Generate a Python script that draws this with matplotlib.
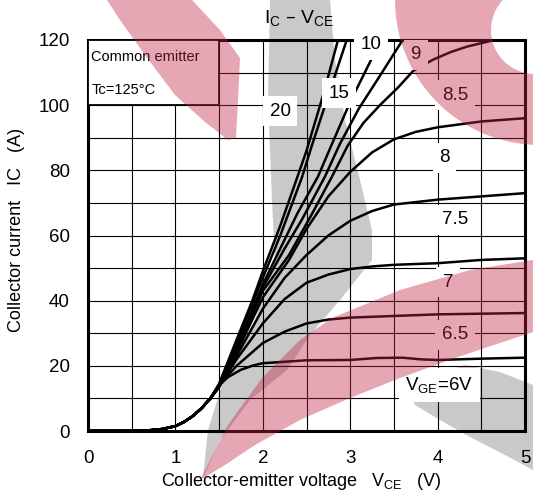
import matplotlib.pyplot as plt
import numpy as np
from matplotlib.patches import Polygon, Rectangle, PathPatch
from matplotlib.path import Path

plt.rcParams['font.family'] = ['Liberation Sans', 'DejaVu Sans']

# shared turn-on part of all curves (V, A)
v_knee = [0, 0.5, 0.7, 0.85, 1.0, 1.1, 1.2, 1.3, 1.4]
i_knee = [0, 0, 0.2, 0.6, 1.5, 2.8, 4.6, 7.0, 10.0]

# VGE = 20 V ... 6 V
v_20 = [1.5, 1.7, 1.88, 2.0, 2.2, 2.37, 2.5, 2.7, 2.86]
i_20 = [14.5, 28, 40, 49, 63, 76, 86, 104, 120]
v_15 = [1.5, 1.7, 2.0, 2.2, 2.45, 2.56, 2.75, 2.96]
i_15 = [14.2, 27, 47, 60, 78, 87.5, 103, 120]
v_10 = [1.5, 1.7, 2.0, 2.2, 2.4, 2.63, 2.79, 3.0, 3.25, 3.36]
i_10 = [13.8, 25.5, 45, 56, 67, 78, 88, 101, 114.5, 120]
v_9 = [1.5, 1.7, 2.0, 2.25, 2.45, 2.71, 2.88, 3.1, 3.34, 3.6]
i_9 = [13.6, 25, 44, 56, 65, 78, 88, 99, 109, 120]
v_85 = [1.5, 1.7, 2.0, 2.3, 2.55, 2.79, 2.97, 3.15, 3.34, 3.55, 3.72, 3.95, 4.15, 4.34, 4.65]
i_85 = [13.5, 24.5, 43, 54, 66, 78, 87.5, 94.5, 100, 105.5, 110.5, 114, 116.3, 118, 120]
v_8 = [1.5, 1.7, 2.0, 2.3, 2.5, 2.75, 3.0, 3.25, 3.5, 3.75, 4.0, 4.5, 5.0]
i_8 = [13.5, 24, 41, 52.5, 62, 72, 79.5, 85.5, 89.5, 91.8, 93.2, 95, 96]
v_75 = [1.5, 1.7, 2.0, 2.25, 2.5, 2.75, 3.0, 3.25, 3.5, 4.0, 4.5, 5.0]
i_75 = [13.6, 23, 37.5, 47, 54, 60, 64.5, 67.5, 69.5, 71, 72, 73]
v_7 = [1.5, 1.7, 2.0, 2.25, 2.5, 2.75, 3.0, 3.25, 3.5, 4.0, 4.5, 5.0]
i_7 = [13.8, 22, 33, 40.5, 45.5, 48, 49.7, 50.5, 51, 51.5, 52.5, 53]
v_65 = [1.5, 1.7, 2.0, 2.25, 2.5, 2.75, 3.0, 3.5, 4.0, 4.5, 5.0]
i_65 = [14, 20, 27, 30.5, 33, 34.2, 34.8, 35.3, 35.8, 36, 36.2]
v_6 = [1.5, 1.6, 1.75, 1.9, 2.0, 2.5, 3.0, 3.3, 3.6, 3.8, 4.0, 4.5, 5.0]
i_6 = [14, 16.5, 18.8, 20.2, 20.8, 21.7, 21.8, 22.4, 22.5, 22.0, 21.8, 22.2, 22.5]

curve_labels = ['20', '15', '10', '9', '8.5', '8', '7.5', '7', '6.5',
                r'$\mathregular{V_{GE}}$=6V']
label_v = [2.2, 2.87, 3.24, 3.75, 4.2, 4.08, 4.2, 4.12, 4.2, 4.02]
label_i = [98.2, 103.6, 118.6, 115.5, 103, 83.8, 64.8, 45.7, 29.5, 14.1]

W, H = 533, 499


def to_fig(pts):
    # picture pixels (y down) -> figure fraction
    return [(x / W, 1 - y / H) for x, y in pts]


fig = plt.figure(figsize=(W / 100, H / 100), dpi=100)
ax = fig.add_axes([88 / W, (H - 431) / H, 437 / W, 391 / H])
ax.set_facecolor('none')

curves = [(v_20, i_20), (v_15, i_15), (v_10, i_10), (v_9, i_9), (v_85, i_85),
          (v_8, i_8), (v_75, i_75), (v_7, i_7), (v_65, i_65), (v_6, i_6)]
for v, i in curves:
    ax.plot(v_knee + v, i_knee + i, color='black', lw=1.8, zorder=2)

ax.set_xlim(0, 5)
ax.set_ylim(0, 120)
ax.set_xticks(np.arange(0, 6, 1))
ax.set_xticks(np.arange(0, 5.01, 0.5), minor=True)
ax.set_yticks(np.arange(0, 121, 20))
ax.set_yticks(np.arange(0, 121, 10), minor=True)
ax.grid(which='both', color='black', lw=0.8)
ax.tick_params(which='both', length=0, labelsize=13.5)
ax.tick_params(axis='x', pad=13.5)
ax.tick_params(axis='y', pad=13)
for s in ax.spines.values():
    s.set_linewidth(2.2)

for t, v, i in zip(curve_labels, label_v, label_i):
    ax.text(v, i, t, fontsize=13.5, ha='center', va='center', zorder=6,
            bbox=dict(boxstyle='square,pad=0.35', facecolor='white', edgecolor='none'))

ax.add_patch(Rectangle((0, 100), 1.5, 20, facecolor='white', edgecolor='black',
                       lw=1.3, zorder=3))
ax.text(0.04, 114.8, 'Common emitter', fontsize=10.5, va='center', zorder=4)
ax.text(0.04, 104.8, 'Tc=125°C', fontsize=10.5, va='center', zorder=4)

fig.text(299 / W, 1 - 18 / H, r'$\mathregular{I_C}$ – $\mathregular{V_{CE}}$',
         fontsize=14, ha='center', va='center')
fig.text(301 / W, 1 - 482 / H,
         r'Collector-emitter voltage   $\mathregular{V_{CE}}$   (V)',
         fontsize=13, ha='center', va='center')
fig.text(17 / W, 1 - 230 / H, 'Collector current   IC   (A)',
         fontsize=13, ha='center', va='center', rotation=90)

# background watermark
gray = '#c9c9c9'
gray_arc = [(270, 0), (330, 0), (335, 60), (345, 120), (360, 180), (372, 230),
            (372, 260), (340, 300), (310, 335), (287, 370), (250, 400), (220, 440),
            (203, 478), (208, 430), (225, 375), (255, 320), (275, 260), (272, 200),
            (268, 100)]
gray_br = [(408, 392), (435, 375), (465, 365), (500, 372), (533, 385), (533, 470),
           (505, 455), (470, 437), (440, 420), (415, 405)]
for pts in (gray_arc, gray_br):
    fig.add_artist(Polygon(to_fig(pts), closed=True, transform=fig.transFigure,
                           facecolor=gray, edgecolor='none', zorder=-1))

pink = (192 / 255, 37 / 255, 67 / 255)
pink_tl = [(107, 0), (192, 0), (220, 30), (240, 58), (238, 100), (236, 138),
           (228, 140), (205, 122), (175, 95), (145, 55), (120, 20)]
pink_low = [(200, 480), (228, 425), (262, 378), (300, 340), (332, 318), (400, 290),
            (470, 270), (533, 260), (533, 332), (458, 357), (400, 378), (350, 398),
            (300, 420), (255, 445), (225, 465)]
for pts in (pink_tl, pink_low):
    fig.add_artist(Polygon(to_fig(pts), closed=True, transform=fig.transFigure,
                           facecolor=pink, alpha=0.4, edgecolor='none', zorder=10))

th = np.linspace(0, 2 * np.pi, 120)
outer = to_fig([(540 + 145 * np.cos(t), 145 * np.sin(t)) for t in th])
inner = to_fig([(535 + 44 * np.cos(t), 30 + 44 * np.sin(t)) for t in th[::-1]])
codes = ([Path.MOVETO] + [Path.LINETO] * (len(th) - 1)) * 2
ring = PathPatch(Path(outer + inner, codes), transform=fig.transFigure,
                 facecolor=pink, alpha=0.4, edgecolor='none', zorder=10)
fig.add_artist(ring)

fig.savefig('out.png', dpi=100, facecolor='white')
